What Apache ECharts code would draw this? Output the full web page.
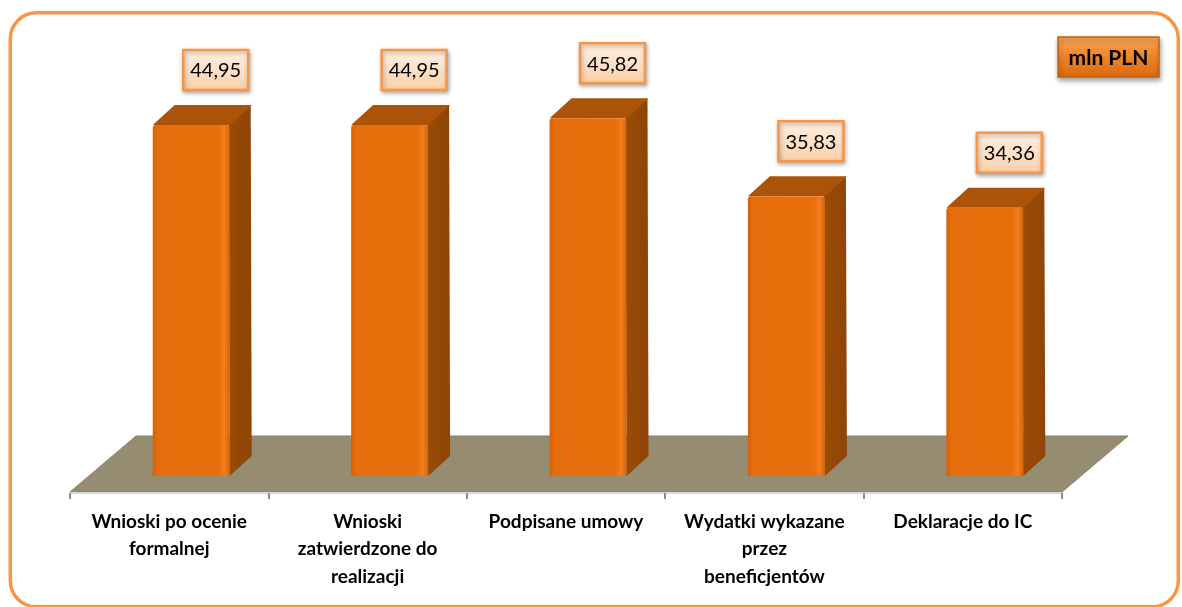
<!DOCTYPE html>
<html><head><meta charset="utf-8">
<script src="https://cdn.jsdelivr.net/npm/echarts@6/dist/echarts.min.js"></script>
<style>html,body{margin:0;padding:0;background:#fff}#c{width:1182px;height:607px}</style>
</head><body><div id="c"></div>
<script>
const categories = [
  'Wnioski po ocenie\nformalnej',
  'Wnioski\nzatwierdzone do\nrealizacji',
  'Podpisane umowy',
  'Wydatki wykazane\nprzez\nbeneficjentów',
  'Deklaracje do IC'
];
const values = [44.95, 44.95, 45.82, 35.83, 34.36];
const unitLabel = 'mln PLN';

function fmt(v) { return v.toFixed(2).replace('.', ','); }

const DX = 22, DY = 20;

function renderFloor(params, api) {
  const band = api.size([1, 0])[0];
  const a = api.coord([0, 0]);
  const b = api.coord([categories.length - 1, 0]);
  const left = a[0] - band / 2, right = b[0] + band / 2;
  const yf = a[1] + 16, yb = a[1] - 40, off = 66;
  return {
    type: 'polygon',
    shape: { points: [[left, yf], [right, yf], [right + off, yb], [left + off, yb]] },
    style: { fill: '#958c72', stroke: '#8a8268', lineWidth: 1 }
  };
}

function renderBar(params, api) {
  const i = api.value(0), v = api.value(1);
  const top = api.coord([i, v]);
  const base = api.coord([i, 0]);
  const band = api.size([1, 0])[0];
  const fw = band * 0.388;
  const cx = top[0] + band * 0.111;
  const L = cx - fw / 2, R = cx + fw / 2, T = top[1], B = base[1];
  const lx = cx + 24.5, ly = T - 55;
  return {
    type: 'group',
    children: [
      {
        type: 'polygon',
        shape: { points: [[R - 1, T], [R + DX - 1, T - DY], [R + DX, B - DY], [R, B]] },
        style: { fill: new echarts.graphic.LinearGradient(0, 0, 1, 0, [
          { offset: 0, color: '#9a4b07' }, { offset: 1, color: '#8f4506' }]) }
      },
      {
        type: 'polygon',
        shape: { points: [[L, T], [L + DX, T - DY], [R + DX, T - DY], [R, T]] },
        style: { fill: '#aa5309' }
      },
      {
        type: 'rect',
        shape: { x: L, y: T, width: fw, height: B - T, r: [3, 3, 0, 0] },
        style: { fill: new echarts.graphic.LinearGradient(0, 0, 1, 0, [
          { offset: 0, color: '#d4620b' }, { offset: 0.06, color: '#e56d0b' },
          { offset: 0.86, color: '#e8700c' }, { offset: 0.93, color: '#f47e1b' },
          { offset: 1, color: '#d2650b' }]) }
      },
      {
        type: 'rect',
        shape: { x: lx - 32.5, y: ly - 20, width: 65, height: 40 },
        style: {
          fill: new echarts.graphic.LinearGradient(0, 0, 0, 1, [
            { offset: 0, color: '#fff1e6' }, { offset: 1, color: '#fbcfa6' }]),
          stroke: '#f79646', lineWidth: 2.5,
          shadowBlur: 4, shadowColor: 'rgba(0,0,0,0.3)', shadowOffsetX: 1, shadowOffsetY: 2
        }
      },
      {
        type: 'text',
        style: { text: fmt(v), x: lx, y: ly + 1, align: 'center', verticalAlign: 'middle',
          fill: '#000', font: '20px Lato' }
      }
    ]
  };
}

const chart = echarts.init(document.getElementById('c'), null, { renderer: 'canvas' });
chart.setOption({
  animation: false,
  backgroundColor: '#fff',
  grid: { left: 70, right: 120, top: 85.5, bottom: 131 },
  xAxis: {
    type: 'category', data: categories, offset: 17, z: 5,
    axisLine: { show: true, onZero: false, lineStyle: { color: '#d9d9d9', width: 2 } },
    axisTick: { show: true, length: 6, lineStyle: { color: '#8c8c8c', width: 2 } },
    axisLabel: { interval: 0, fontFamily: 'Lato', fontWeight: 'bold', fontSize: 19,
      color: '#000', lineHeight: 27.5, margin: 15 },
    splitLine: { show: false }
  },
  yAxis: { type: 'value', min: 0, max: 50, show: false },
  series: [
    { type: 'custom', z: 1, renderItem: renderFloor, data: [[0, 0]], silent: true },
    { type: 'custom', z: 2, renderItem: renderBar,
      data: values.map((v, i) => [i, v]), silent: true }
  ],
  graphic: [
    { type: 'rect', z: 10, shape: { x: 10.3, y: 12.8, width: 1168, height: 594, r: 26 },
      style: { fill: 'none', stroke: '#f79646', lineWidth: 3.5 } },
    { type: 'group', z: 10, children: [
      { type: 'rect', shape: { x: 1058, y: 37, width: 101, height: 40 },
        style: { fill: new echarts.graphic.LinearGradient(0, 0, 0, 1, [
          { offset: 0, color: '#faa55a' }, { offset: 0.5, color: '#ee8427' }, { offset: 1, color: '#d9680f' }]),
          stroke: '#c8600c', lineWidth: 1.5,
          shadowBlur: 5, shadowColor: 'rgba(0,0,0,0.35)', shadowOffsetX: 1, shadowOffsetY: 3 } },
      { type: 'text', style: { text: unitLabel, x: 1108.5, y: 58, align: 'center', verticalAlign: 'middle',
        fill: '#000', font: 'bold 21px Lato' } }
    ] }
  ]
});
</script>
</body></html>
